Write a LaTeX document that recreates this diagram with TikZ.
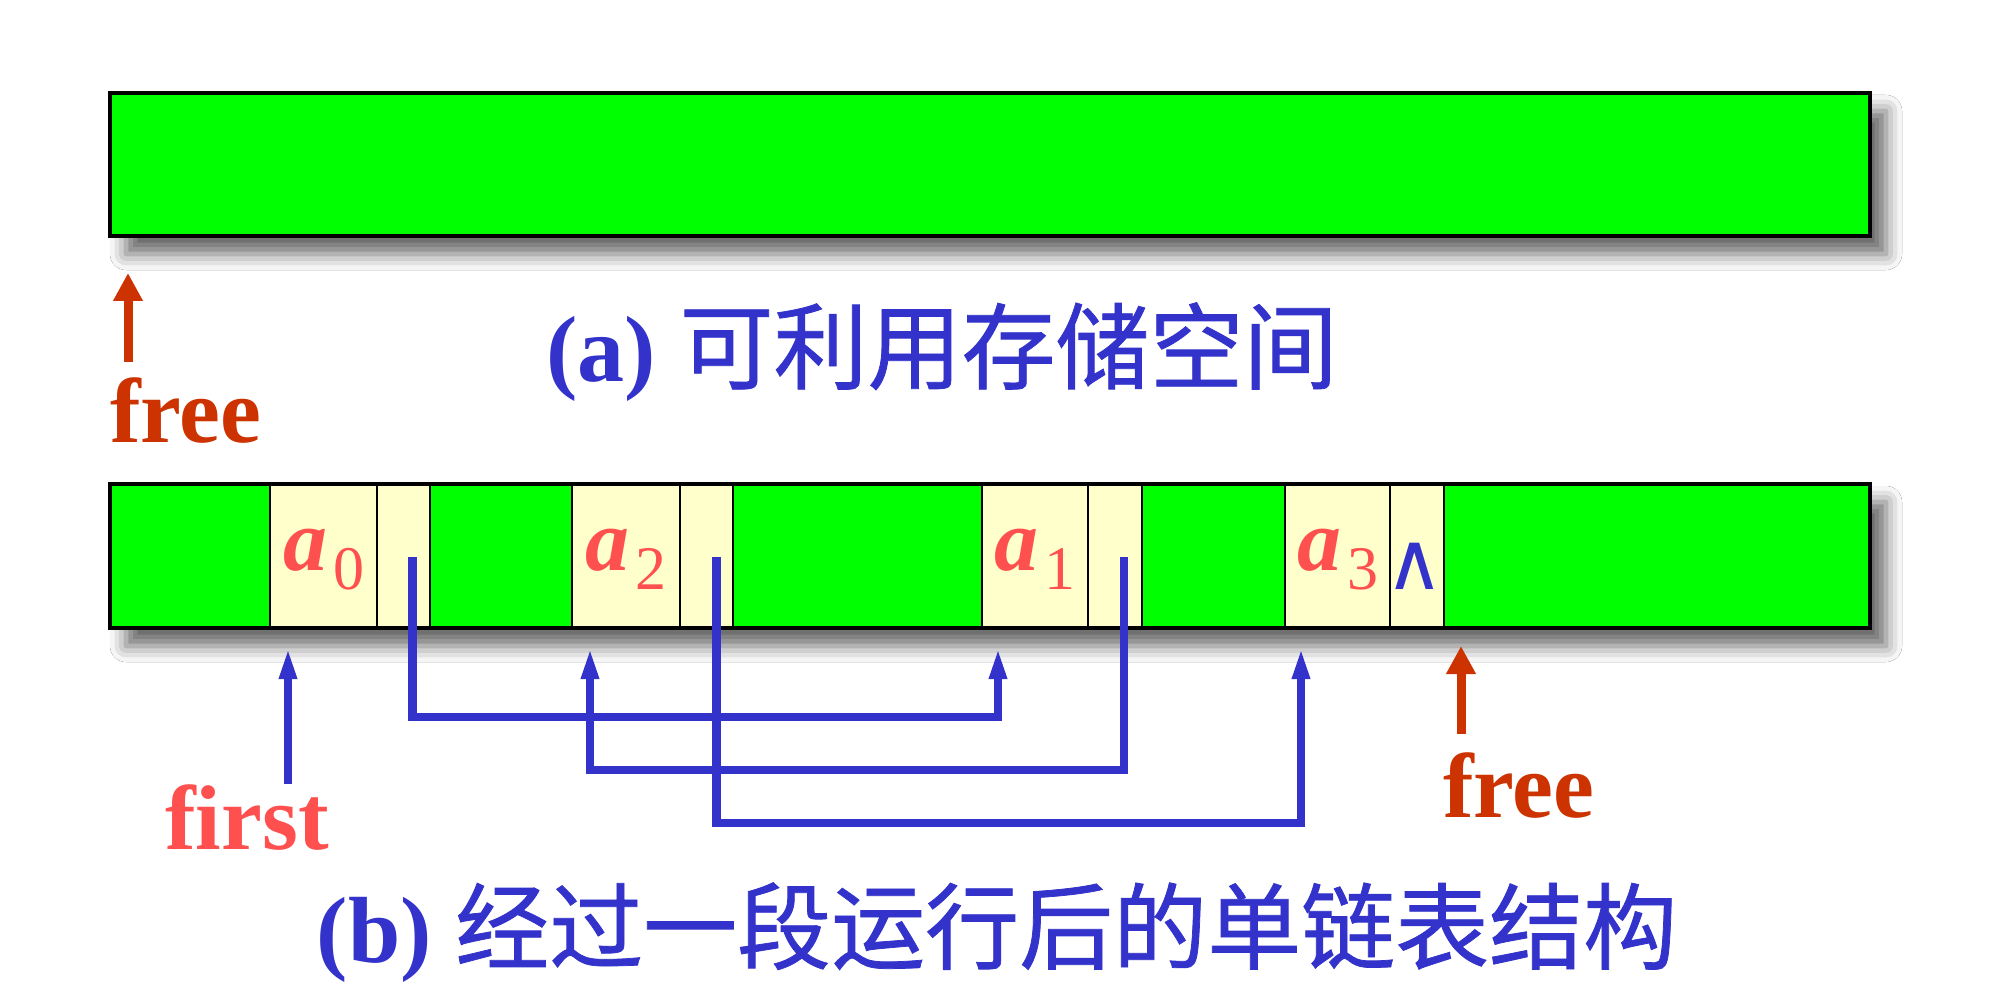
\documentclass[tikz,border=0pt]{standalone}
\usepackage{fontspec}
\setmainfont{Liberation Serif}
\newfontfamily\cjk[FakeBold=0.8]{Noto Sans CJK SC}
\newfontfamily\symf{DejaVu Sans}
\usetikzlibrary{arrows.meta,shadows.blur,calc}
\definecolor{lgreen}{HTML}{00FF00}
\definecolor{lyellow}{HTML}{FFFFCC}
\definecolor{myblue}{HTML}{3333CC}
\definecolor{myred}{HTML}{CC3300}
\definecolor{mypink}{HTML}{FF5050}
\newcommand{\aval}[1]{{\fontsize{44pt}{46pt}\selectfont\bfseries\itshape a}\kern3pt\raisebox{-9.5pt}{\fontsize{31pt}{33pt}\selectfont #1}}
\newcommand{\nilsym}{{\symf\fontsize{40pt}{42pt}\selectfont ∧}}
\begin{document}
\begin{tikzpicture}[x=0.5pt,y=-0.5pt,
  cellbase/.style={draw=black,line width=0.9pt,minimum height=72pt,inner sep=0pt,outer sep=0pt,anchor=north west},
  gcell/.style={cellbase,fill=lgreen},
  ycell/.style={cellbase,fill=lyellow},
  barbox/.style={draw=black,line width=1.6pt,minimum width=880pt,inner sep=0pt,outer sep=0pt,anchor=north west},
  shad/.style={blur shadow={shadow xshift=8pt,shadow yshift=-9pt,shadow blur radius=8pt,shadow opacity=60}},
  ptr/.style={draw=myblue,line width=4.2pt,-{Triangle[length=16pt,width=8pt]}},
  fptr/.style={draw=myred,line width=4.5pt,-{Triangle[length=14pt,width=14pt]}},
  lbl/.style={inner sep=0pt,outer sep=0pt},
  redtxt/.style={lbl,text=myred,font=\fontsize{46pt}{50pt}\selectfont\bfseries},
  pinktxt/.style={lbl,text=mypink,font=\fontsize{46pt}{50pt}\selectfont\bfseries},
  captxt/.style={lbl,text=myblue,font=\fontsize{47pt}{52pt}\selectfont}
]
\useasboundingbox[fill=white] (0,0) rectangle (1992,994);

% (a) top bar
\node[barbox,shad,fill=lgreen,minimum height=71.5pt] (topbar) at (110,93) {};
\coordinate (fa0) at ($(topbar.south west)+(18,126)$);
\coordinate (fa1) at ($(topbar.south west)+(18,37)$);
\draw[fptr] (fa0) -- (fa1);
\node[redtxt,anchor=base west] (freeA) at (110,443) {free};
\node[captxt,anchor=base] (capA) at (942,382) {{\bfseries (a)} {\cjk 可利用存储空间}};

% (b) bottom bar
\node[barbox,shad,fill=lgreen,minimum height=72pt] (botshadow) at (110,484) {};
\node[gcell,minimum width=80pt] (g1) at (110,484) {};
\node[ycell,minimum width=53.5pt] (a0) at (g1.north east) {};
\node[ycell,minimum width=26.5pt] (p0) at (a0.north east) {};
\node[gcell,minimum width=71pt] (g2) at (p0.north east) {};
\node[ycell,minimum width=54pt] (a2) at (g2.north east) {};
\node[ycell,minimum width=26.5pt] (p2) at (a2.north east) {};
\node[gcell,minimum width=124.5pt] (g3) at (p2.north east) {};
\node[ycell,minimum width=53pt] (a1) at (g3.north east) {};
\node[ycell,minimum width=27pt] (p1) at (a1.north east) {};
\node[gcell,minimum width=71.5pt] (g4) at (p1.north east) {};
\node[ycell,minimum width=52.5pt] (a3) at (g4.north east) {};
\node[ycell,minimum width=27pt] (p3) at (a3.north east) {};
\node[gcell,minimum width=213pt] (g5) at (p3.north east) {};
\node[barbox,minimum height=72pt] (botbar) at (110,484) {};

% labels
\node[lbl,text=mypink,anchor=base] (la0) at ($(a0.north)+(0,86)$) {\aval{0}};
\node[lbl,text=mypink,anchor=base] (la2) at ($(a2.north)+(0,86)$) {\aval{2}};
\node[lbl,text=mypink,anchor=base] (la1) at ($(a1.north)+(0,86)$) {\aval{1}};
\node[lbl,text=mypink,anchor=base] (la3) at ($(a3.north)+(0,86)$) {\aval{3}};
\coordinate (nilpos) at ($(p3.center)+(-2,10)$);
\node[lbl,text=myblue] (nil) at (nilpos) {\nilsym};

% pointer sources and targets
\coordinate (s0) at ($(p0.center)+(9,1)$);
\coordinate (s2) at ($(p2.center)+(10,1)$);
\coordinate (s1) at ($(p1.center)+(9,1)$);
\coordinate (t0) at ($(a0.south west)+(18,19)$);
\coordinate (t2) at ($(a2.south west)+(18,19)$);
\coordinate (t1) at ($(a1.south west)+(16,19)$);
\coordinate (t3) at ($(a3.south west)+(16,19)$);
\coordinate (fs) at ($(a0.south west)+(18,156)$);

\draw[ptr] (fs) -- (t0);
\draw[ptr] (s0) -- ++(0,160) -| (t1);
\draw[ptr] (s1) -- ++(0,213) -| (t2);
\draw[ptr] (s2) -- ++(0,266) -| (t3);

\node[pinktxt,anchor=base] (first) at (247,849) {first};

\coordinate (fb0) at ($(g5.south west)+(17,106)$);
\coordinate (fb1) at ($(g5.south west)+(17,18)$);
\draw[fptr] (fb0) -- (fb1);
\node[redtxt,anchor=base west] (freeB) at (1443,817) {free};

\node[captxt,anchor=base] (capB) at (997,962) {{\bfseries (b)} {\cjk 经过一段运行后的单链表结构}};
\end{tikzpicture}
\end{document}
